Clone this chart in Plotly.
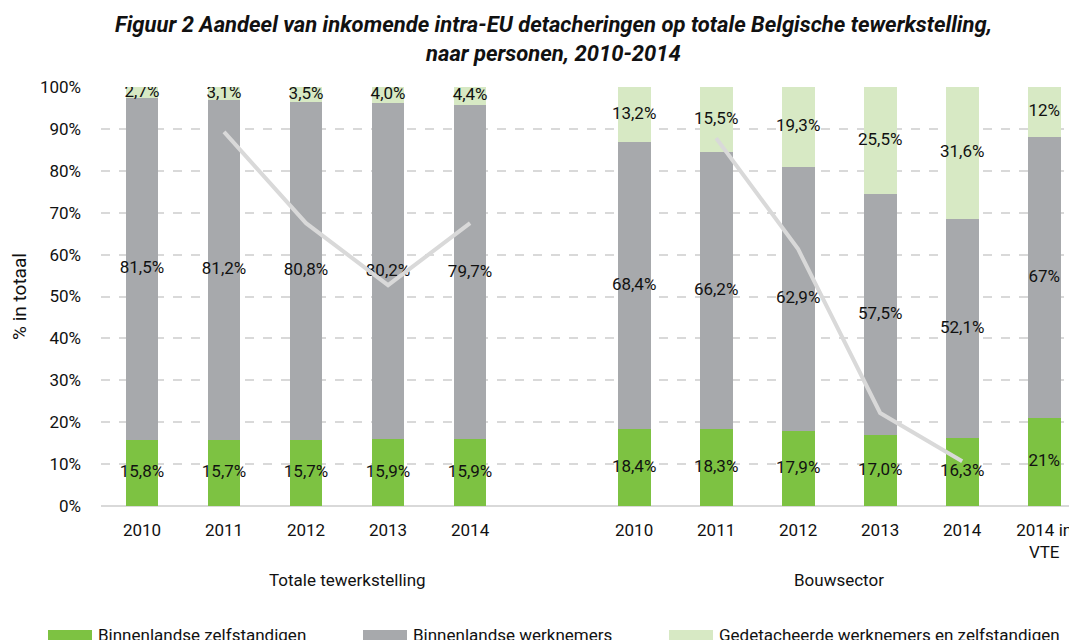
import plotly.graph_objects as go

# ---- data ----
categories = ["2010", "2011", "2012", "2013", "2014",
              "2010", "2011", "2012", "2013", "2014", "2014 in<br>VTE"]
groups = ["Totale tewerkstelling", "Bouwsector"]
zelfstandigen = [15.8, 15.7, 15.7, 15.9, 15.9, 18.4, 18.3, 17.9, 17.0, 16.3, 21]
werknemers = [81.5, 81.2, 80.8, 80.2, 79.7, 68.4, 66.2, 62.9, 57.5, 52.1, 67]
gedetacheerd = [2.7, 3.1, 3.5, 4.0, 4.4, 13.2, 15.5, 19.3, 25.5, 31.6, 12]
zelf_labels = ["15,8%", "15,7%", "15,7%", "15,9%", "15,9%", "18,4%", "18,3%", "17,9%", "17,0%", "16,3%", "21%"]
werk_labels = ["81,5%", "81,2%", "80,8%", "80,2%", "79,7%", "68,4%", "66,2%", "62,9%", "57,5%", "52,1%", "67%"]
gedet_labels = ["2,7%", "3,1%", "3,5%", "4,0%", "4,4%", "13,2%", "15,5%", "19,3%", "25,5%", "31,6%", "12%"]
# grey trend line (2011-2014 per group)
trend_total = [89.3, 67.5, 52.7, 67.5]
trend_bouw = [87.8, 61.3, 22.2, 10.7]
series_names = ["Binnenlandse zelfstandigen", "Binnenlandse werknemers",
                "Gedetacheerde werknemers en zelfstandigen"]
title_lines = ["Figuur 2 Aandeel van inkomende intra-EU detacheringen op totale Belgische tewerkstelling,",
               "naar personen, 2010-2014"]
ytick_vals = list(range(0, 101, 10))

# ---- style ----
C_GREEN = "#7dc242"
C_GREY = "#a7a9ac"
C_LIGHT = "#d7e9c4"
C_LINE = "#d9d9d9"
FONT = "Roboto, sans-serif"
FS = 17
TXT = "#111111"

# x positions: one empty slot between the two groups
xpos = list(range(5)) + list(range(6, 12))

fig = go.Figure()
colors = [C_GREEN, C_GREY, C_LIGHT]
for vals, col, name in zip([zelfstandigen, werknemers, gedetacheerd], colors, series_names):
    fig.add_trace(go.Bar(x=xpos, y=vals, name=name, marker_color=col,
                         marker_line_width=0, width=0.4, showlegend=False))

# data labels centred in each segment
bottoms = [0] * len(xpos)
for vals, labels in zip([zelfstandigen, werknemers, gedetacheerd],
                        [zelf_labels, werk_labels, gedet_labels]):
    mids = [b + v / 2 for b, v in zip(bottoms, vals)]
    fig.add_trace(go.Scatter(x=xpos, y=mids, mode="text", text=labels,
                             textposition="middle center",
                             textfont=dict(family=FONT, size=FS, color=TXT),
                             showlegend=False, hoverinfo="skip"))
    bottoms = [b + v for b, v in zip(bottoms, vals)]

# trend lines
fig.add_trace(go.Scatter(x=xpos[1:5], y=trend_total, mode="lines",
                         line=dict(color=C_LINE, width=4), showlegend=False))
fig.add_trace(go.Scatter(x=xpos[6:10], y=trend_bouw, mode="lines",
                         line=dict(color=C_LINE, width=4), showlegend=False))

# page body has an 8px margin: work in screen pixels and shift
OFF = 8
W, H = 1077 - OFF, 640 - OFF
L, R, T = 101 - OFF, 0, 87 - OFF
B = H - (506 - OFF)
pw, ph = W - L - R, H - T - B


def px(xs):
    return (xs - OFF - L) / pw


def py(ys):
    return (H - B - (ys - OFF)) / ph


annotations = [
    dict(x=2.5, y=py(592), xref="x", yref="paper", text=groups[0], showarrow=False,
         font=dict(family=FONT, size=FS, color=TXT)),
    dict(x=8.5, y=py(592), xref="x", yref="paper", text=groups[1], showarrow=False,
         font=dict(family=FONT, size=FS, color=TXT)),
]
for ty, line in zip([24, 53], title_lines):
    annotations.append(dict(x=px(553), y=py(ty), xref="paper", yref="paper",
                            xanchor="center", yanchor="middle",
                            text=f"<b><i>{line}</i></b>", showarrow=False,
                            font=dict(family=FONT, size=22, color=TXT)))
shapes = []
leg_x = [48, 363, 669]
for lx, col, name in zip(leg_x, colors, series_names):
    shapes.append(dict(type="rect", xref="paper", yref="paper",
                       x0=px(lx), x1=px(lx + 44), y0=py(630), y1=py(648),
                       fillcolor=col, line_width=0))
    annotations.append(dict(x=px(lx + 48), y=py(635), xref="paper", yref="paper",
                            xanchor="left", yanchor="middle", text=name, showarrow=False,
                            font=dict(family=FONT, size=FS, color=TXT)))

fig.update_layout(
    width=W, height=H,
    margin=dict(l=L, r=R, t=T, b=B, autoexpand=False),
    barmode="stack",
    plot_bgcolor="white", paper_bgcolor="white",
    font=dict(family=FONT, size=FS, color=TXT),
    xaxis=dict(tickmode="array", tickvals=xpos, ticktext=categories,
               range=[-0.5, 11.4], showgrid=False, zeroline=False,
               showline=False, ticks="", tickfont=dict(size=FS),
               ticklabelstandoff=12),
    yaxis=dict(range=[0, 100], tickvals=ytick_vals,
               ticktext=[f"{v}%" for v in ytick_vals],
               showgrid=True, gridcolor=C_LINE, griddash="dash", gridwidth=1.5,
               zeroline=True, zerolinecolor=C_LINE, zerolinewidth=2,
               ticks="", ticklabelstandoff=19, tickfont=dict(size=FS),
               title=dict(text="% in totaal", standoff=10, font=dict(size=19))),
    annotations=annotations,
    shapes=shapes,
    showlegend=False,
)

fig.write_html("out.html")
